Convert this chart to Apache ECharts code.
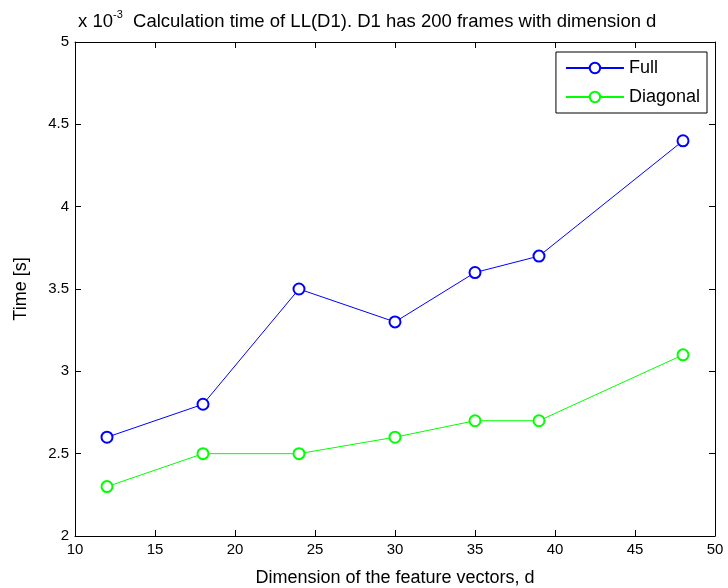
<!DOCTYPE html>
<html><head><meta charset="utf-8">
<script src="https://cdn.jsdelivr.net/npm/echarts@6/dist/echarts.min.js"></script>
<style>html,body{margin:0;padding:0;background:#fff}#c{width:728px;height:588px}</style>
</head><body><div id="c"></div>
<script>
var dims = [12, 18, 24, 30, 35, 39, 48];
var fullTimes = [2.6, 2.8, 3.5, 3.3, 3.6, 3.7, 4.4];
var diagTimes = [2.3, 2.5, 2.5, 2.6, 2.7, 2.7, 3.1];
var seriesNames = ['Full', 'Diagonal'];
var titleText = 'Calculation time of LL(D1). D1 has 200 frames with dimension d';
var xTitle = 'Dimension of the feature vectors, d';
var yTitle = 'Time [s]';

var FONT = 'Liberation Sans';
var chart = echarts.init(document.getElementById('c'));
function pts(xs, ys){ return xs.map(function(x,i){return [x, ys[i]];}); }
var tickStyle = {show:true, inside:true, length:6, lineStyle:{color:'#000', width:1}};
chart.setOption({
  animation:false,
  backgroundColor:'#fff',
  title:{
    text:'{a|x 10}{s|-3}{a|  ' + titleText + '}',
    left:73, top:4,
    textStyle:{fontWeight:'normal', rich:{
      a:{fontFamily:FONT, fontSize:18.5, fontWeight:'normal', color:'#000', verticalAlign:'bottom', lineHeight:22},
      s:{fontFamily:FONT, fontSize:11, fontWeight:'normal', color:'#000', verticalAlign:'top', lineHeight:22, padding:[0,0,12,0]}
    }}
  },
  legend:{
    right:21, top:52, orient:'vertical',
    data:seriesNames,
    backgroundColor:'#fff', borderColor:'#000', borderWidth:1,
    padding:[7,7,7,9], itemGap:11, itemWidth:58, itemHeight:13,
    textStyle:{fontFamily:FONT, fontSize:18, color:'#000', padding:[0,0,0,0]}
  },
  grid:{left:75, right:13, top:42, bottom:52, outerBoundsMode:'none', containLabel:false},
  xAxis:[{
    type:'value', min:10, max:50, interval:5,
    name:xTitle, nameLocation:'middle', nameGap:33,
    nameTextStyle:{fontFamily:FONT, fontSize:18, color:'#000'},
    axisLine:{show:true, lineStyle:{color:'#000', width:1}},
    axisTick:tickStyle,
    axisLabel:{fontFamily:FONT, fontSize:15, color:'#000', margin:6},
    splitLine:{show:false}
  },{
    type:'value', min:10, max:50, interval:5, position:'top',
    axisLine:{show:true, lineStyle:{color:'#000', width:1}},
    axisTick:tickStyle, axisLabel:{show:false}, splitLine:{show:false}
  }],
  yAxis:[{
    type:'value', min:2, max:5, interval:0.5,
    name:yTitle, nameLocation:'middle', nameGap:45,
    nameTextStyle:{fontFamily:FONT, fontSize:18, color:'#000'},
    axisLine:{show:true, lineStyle:{color:'#000', width:1}},
    axisTick:tickStyle,
    axisLabel:{fontFamily:FONT, fontSize:15, color:'#000', margin:6},
    splitLine:{show:false}
  },{
    type:'value', min:2, max:5, interval:0.5, position:'right',
    axisLine:{show:true, lineStyle:{color:'#000', width:1}},
    axisTick:tickStyle, axisLabel:{show:false}, splitLine:{show:false}
  }],
  series:[{
    name:seriesNames[0], type:'line', data:pts(dims, fullTimes),
    symbol:'emptyCircle', symbolSize:11,
    lineStyle:{color:'#0000ff', width:1},
    itemStyle:{color:'#0000ff', borderColor:'#0000ff', borderWidth:1}
  },{
    name:seriesNames[1], type:'line', data:pts(dims, diagTimes),
    symbol:'emptyCircle', symbolSize:11,
    lineStyle:{color:'#00ff00', width:1},
    itemStyle:{color:'#00ff00', borderColor:'#00ff00', borderWidth:1}
  }]
});
</script></body></html>
